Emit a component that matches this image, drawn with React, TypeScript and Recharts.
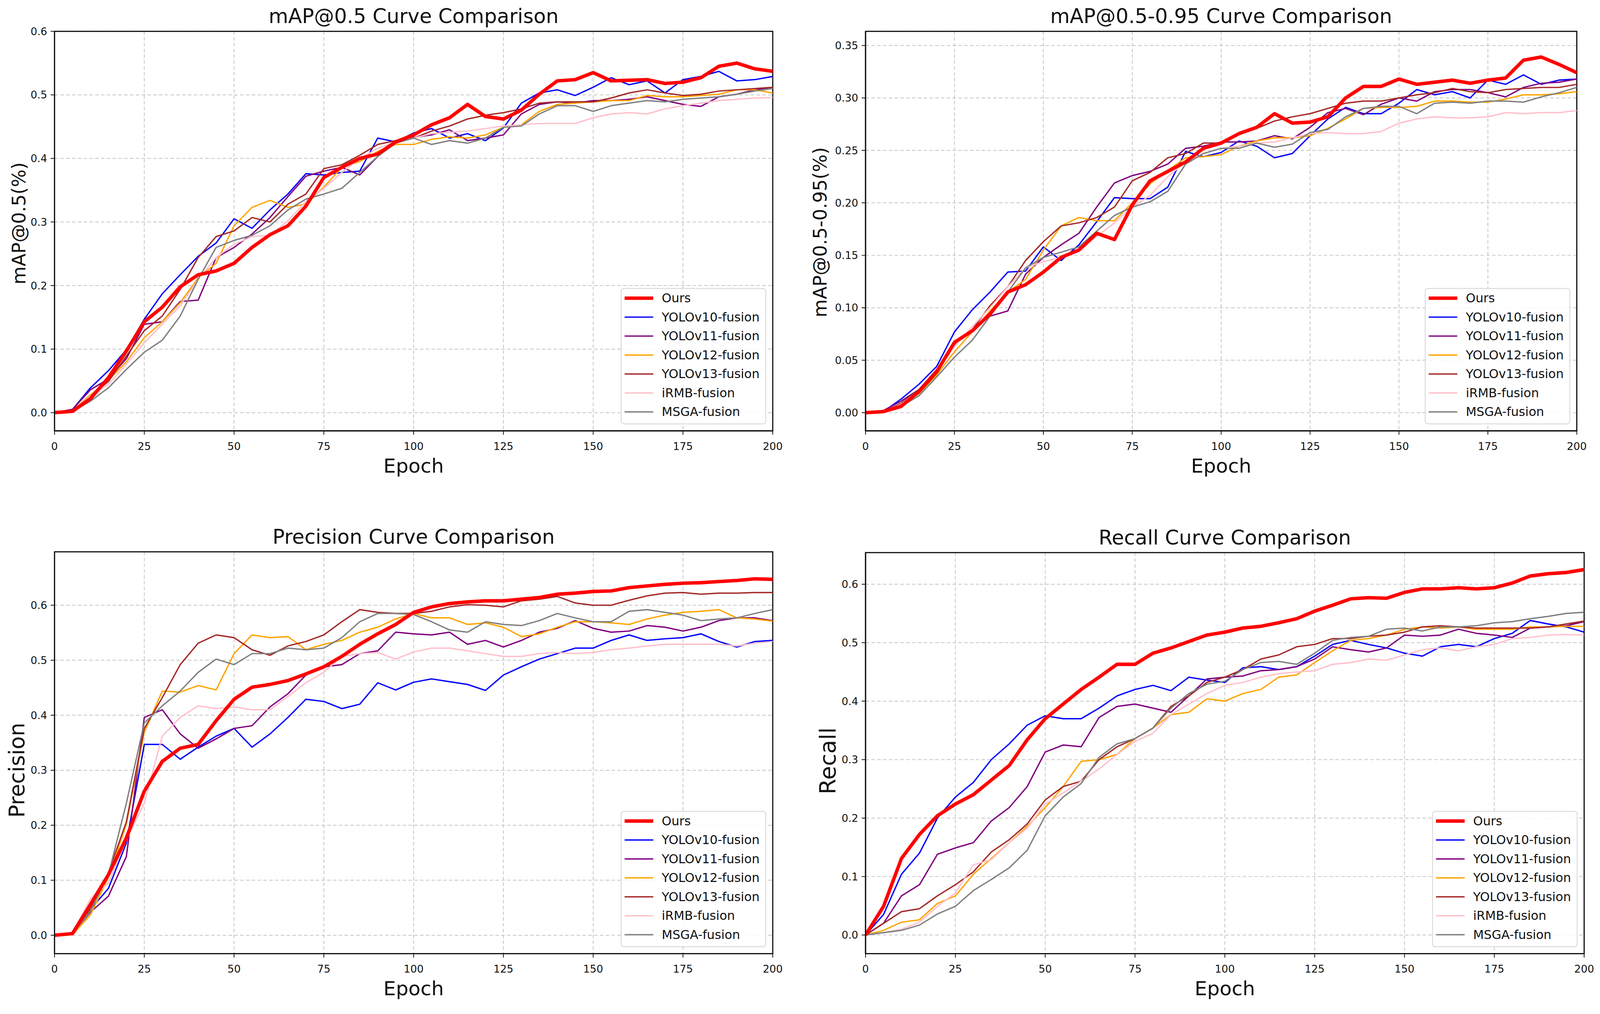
import { LineChart, Line, XAxis, YAxis, CartesianGrid, Legend, Label, ReferenceArea } from 'recharts'

const FONT = '"DejaVu Sans", Verdana, sans-serif'
const PAGE_W = 4137
const PAGE_H = 2596

if (typeof document !== 'undefined') {
  document.documentElement.style.margin = '0'
  document.documentElement.style.overflow = 'hidden'
  document.body.style.margin = '0'
  document.body.style.overflow = 'hidden'
}

// epochs sampled every 5
const epochs = [
  0, 5, 10, 15, 20, 25, 30, 35, 40, 45, 50, 55, 60, 65, 70, 75, 80, 85, 90, 95, 100,
  105, 110, 115, 120, 125, 130, 135, 140, 145, 150, 155, 160, 165, 170, 175, 180, 185, 190, 195, 200,
]
const epochTicks = [0, 25, 50, 75, 100, 125, 150, 175, 200]

const seriesNames = ['Ours', 'YOLOv10-fusion', 'YOLOv11-fusion', 'YOLOv12-fusion', 'YOLOv13-fusion', 'iRMB-fusion', 'MSGA-fusion']
const seriesColors = ['#ff0000', '#0000ff', '#800080', '#ffa500', '#a52a2a', '#ffc0cb', '#808080']

// mAP@0.5
const map50Ticks = [0, 0.1, 0.2, 0.3, 0.4, 0.5, 0.6]
const map50Ours = [0, 0.002, 0.022, 0.055, 0.097, 0.143, 0.166, 0.198, 0.217, 0.223, 0.235, 0.26, 0.28, 0.294, 0.325, 0.37, 0.386, 0.4, 0.407, 0.426, 0.437,
  0.453, 0.464, 0.485, 0.466, 0.462, 0.476, 0.501, 0.522, 0.524, 0.535, 0.522, 0.523, 0.524, 0.518, 0.52, 0.527, 0.545, 0.55, 0.541, 0.537]
const map50V10 = [0, 0.005, 0.039, 0.066, 0.099, 0.147, 0.187, 0.217, 0.246, 0.267, 0.305, 0.29, 0.319, 0.344, 0.376, 0.374, 0.378, 0.38, 0.432, 0.426, 0.44,
  0.447, 0.432, 0.439, 0.428, 0.448, 0.487, 0.503, 0.508, 0.499, 0.512, 0.527, 0.516, 0.522, 0.503, 0.524, 0.529, 0.537, 0.522, 0.524, 0.529]
const map50V11 = [0, 0.005, 0.036, 0.053, 0.085, 0.139, 0.143, 0.175, 0.177, 0.244, 0.26, 0.281, 0.307, 0.34, 0.372, 0.38, 0.386, 0.374, 0.403, 0.428, 0.433,
  0.437, 0.445, 0.428, 0.432, 0.437, 0.47, 0.485, 0.489, 0.487, 0.491, 0.491, 0.493, 0.497, 0.491, 0.485, 0.482, 0.497, 0.501, 0.508, 0.512]
const map50V12 = [0, 0.003, 0.028, 0.051, 0.08, 0.118, 0.143, 0.173, 0.212, 0.235, 0.294, 0.323, 0.334, 0.323, 0.328, 0.355, 0.386, 0.395, 0.411, 0.422, 0.422,
  0.43, 0.434, 0.432, 0.437, 0.449, 0.453, 0.474, 0.485, 0.487, 0.489, 0.491, 0.491, 0.499, 0.497, 0.497, 0.499, 0.501, 0.508, 0.508, 0.503]
const map50V13 = [0, 0.002, 0.026, 0.049, 0.089, 0.129, 0.152, 0.194, 0.244, 0.277, 0.286, 0.307, 0.3, 0.328, 0.344, 0.384, 0.39, 0.405, 0.422, 0.428, 0.432,
  0.443, 0.451, 0.462, 0.468, 0.472, 0.478, 0.487, 0.489, 0.489, 0.489, 0.495, 0.503, 0.508, 0.503, 0.499, 0.501, 0.506, 0.508, 0.51, 0.512]
const map50Irmb = [0, 0.002, 0.026, 0.045, 0.076, 0.11, 0.139, 0.168, 0.21, 0.244, 0.265, 0.277, 0.279, 0.302, 0.332, 0.353, 0.378, 0.399, 0.416, 0.426, 0.432,
  0.439, 0.441, 0.443, 0.447, 0.451, 0.453, 0.455, 0.455, 0.455, 0.464, 0.47, 0.472, 0.47, 0.478, 0.483, 0.487, 0.491, 0.493, 0.495, 0.496]
const map50Msga = [0, 0.002, 0.018, 0.039, 0.068, 0.095, 0.114, 0.152, 0.21, 0.26, 0.271, 0.279, 0.294, 0.319, 0.336, 0.344, 0.353, 0.378, 0.403, 0.424, 0.432,
  0.422, 0.428, 0.424, 0.432, 0.449, 0.451, 0.47, 0.483, 0.483, 0.474, 0.483, 0.487, 0.491, 0.489, 0.493, 0.495, 0.497, 0.501, 0.506, 0.51]

// mAP@0.5-0.95
const map95Ticks = [0, 0.05, 0.1, 0.15, 0.2, 0.25, 0.3, 0.35]
const map95Ours = [0, 0.001, 0.006, 0.02, 0.039, 0.067, 0.078, 0.094, 0.115, 0.122, 0.134, 0.148, 0.155, 0.171, 0.165, 0.198, 0.221, 0.23, 0.239, 0.252, 0.257,
  0.266, 0.272, 0.285, 0.276, 0.277, 0.282, 0.3, 0.311, 0.311, 0.318, 0.313, 0.315, 0.317, 0.314, 0.317, 0.319, 0.336, 0.339, 0.332, 0.324]
const map95V10 = [0, 0.001, 0.013, 0.027, 0.044, 0.077, 0.098, 0.115, 0.134, 0.135, 0.158, 0.145, 0.16, 0.182, 0.205, 0.204, 0.204, 0.215, 0.249, 0.244, 0.248,
  0.259, 0.254, 0.243, 0.247, 0.264, 0.28, 0.291, 0.285, 0.285, 0.295, 0.308, 0.303, 0.306, 0.3, 0.317, 0.313, 0.322, 0.313, 0.317, 0.318]
const map95V11 = [0, 0.002, 0.011, 0.022, 0.041, 0.067, 0.079, 0.092, 0.097, 0.132, 0.148, 0.16, 0.171, 0.196, 0.219, 0.226, 0.23, 0.237, 0.252, 0.254, 0.258,
  0.258, 0.259, 0.264, 0.261, 0.272, 0.286, 0.29, 0.284, 0.294, 0.3, 0.297, 0.306, 0.308, 0.308, 0.305, 0.301, 0.31, 0.314, 0.315, 0.318]
const map95V12 = [0, 0.0005, 0.007, 0.018, 0.036, 0.058, 0.077, 0.097, 0.115, 0.127, 0.155, 0.178, 0.186, 0.183, 0.183, 0.2, 0.218, 0.231, 0.243, 0.244, 0.246,
  0.254, 0.259, 0.262, 0.262, 0.264, 0.271, 0.28, 0.29, 0.291, 0.291, 0.292, 0.297, 0.297, 0.296, 0.296, 0.299, 0.303, 0.303, 0.304, 0.306]
const map95V13 = [0, 0.0005, 0.009, 0.022, 0.041, 0.065, 0.079, 0.102, 0.12, 0.145, 0.163, 0.178, 0.181, 0.186, 0.196, 0.221, 0.229, 0.243, 0.247, 0.257, 0.257,
  0.266, 0.271, 0.278, 0.282, 0.285, 0.29, 0.295, 0.297, 0.297, 0.3, 0.303, 0.305, 0.309, 0.306, 0.305, 0.308, 0.309, 0.31, 0.31, 0.313]
const map95Irmb = [0, 0.0005, 0.008, 0.021, 0.039, 0.063, 0.082, 0.1, 0.12, 0.138, 0.144, 0.148, 0.154, 0.168, 0.181, 0.196, 0.207, 0.225, 0.239, 0.247, 0.252,
  0.254, 0.257, 0.258, 0.262, 0.266, 0.267, 0.266, 0.266, 0.268, 0.276, 0.28, 0.282, 0.281, 0.281, 0.282, 0.286, 0.285, 0.286, 0.286, 0.288]
const map95Msga = [0, 0.0005, 0.006, 0.016, 0.034, 0.053, 0.069, 0.092, 0.115, 0.138, 0.148, 0.153, 0.158, 0.173, 0.188, 0.196, 0.201, 0.211, 0.237, 0.247, 0.252,
  0.252, 0.257, 0.253, 0.256, 0.267, 0.27, 0.282, 0.29, 0.292, 0.292, 0.285, 0.295, 0.296, 0.295, 0.297, 0.297, 0.296, 0.301, 0.305, 0.31]

// Precision
const precTicks = [0, 0.1, 0.2, 0.3, 0.4, 0.5, 0.6]
const precOurs = [0, 0.003, 0.056, 0.11, 0.177, 0.262, 0.316, 0.34, 0.347, 0.39, 0.429, 0.451, 0.456, 0.463, 0.475, 0.488, 0.507, 0.529, 0.548, 0.565, 0.587,
  0.597, 0.603, 0.606, 0.608, 0.608, 0.611, 0.614, 0.62, 0.622, 0.625, 0.626, 0.632, 0.635, 0.638, 0.64, 0.641, 0.643, 0.645, 0.648, 0.647]
const precV10 = [0, 0.003, 0.047, 0.085, 0.168, 0.347, 0.347, 0.32, 0.342, 0.362, 0.376, 0.342, 0.366, 0.396, 0.429, 0.425, 0.412, 0.42, 0.459, 0.446, 0.46,
  0.466, 0.461, 0.456, 0.445, 0.473, 0.488, 0.502, 0.512, 0.522, 0.522, 0.536, 0.546, 0.536, 0.539, 0.541, 0.548, 0.534, 0.524, 0.534, 0.536]
const precV11 = [0, 0.003, 0.042, 0.071, 0.143, 0.396, 0.41, 0.366, 0.34, 0.357, 0.376, 0.381, 0.415, 0.439, 0.473, 0.488, 0.492, 0.512, 0.517, 0.551, 0.548,
  0.546, 0.551, 0.529, 0.536, 0.524, 0.536, 0.551, 0.558, 0.572, 0.558, 0.551, 0.553, 0.563, 0.56, 0.553, 0.56, 0.572, 0.577, 0.577, 0.572]
const precV12 = [0, 0.001, 0.037, 0.105, 0.202, 0.369, 0.444, 0.442, 0.454, 0.446, 0.512, 0.546, 0.541, 0.543, 0.519, 0.529, 0.536, 0.551, 0.56, 0.575, 0.585,
  0.577, 0.577, 0.565, 0.568, 0.56, 0.543, 0.548, 0.56, 0.57, 0.57, 0.568, 0.565, 0.575, 0.582, 0.587, 0.589, 0.592, 0.577, 0.575, 0.571]
const precV13 = [0, 0.003, 0.047, 0.114, 0.206, 0.376, 0.432, 0.492, 0.531, 0.546, 0.541, 0.519, 0.509, 0.526, 0.534, 0.546, 0.57, 0.592, 0.587, 0.585, 0.585,
  0.589, 0.597, 0.601, 0.6, 0.597, 0.608, 0.611, 0.616, 0.604, 0.6, 0.6, 0.609, 0.617, 0.622, 0.623, 0.62, 0.622, 0.622, 0.623, 0.623]
const precIrmb = [0, 0.005, 0.066, 0.095, 0.173, 0.24, 0.362, 0.396, 0.417, 0.412, 0.415, 0.41, 0.41, 0.434, 0.459, 0.478, 0.507, 0.512, 0.514, 0.502, 0.515,
  0.522, 0.522, 0.517, 0.512, 0.507, 0.507, 0.512, 0.514, 0.512, 0.514, 0.519, 0.522, 0.526, 0.529, 0.529, 0.529, 0.529, 0.526, 0.531, 0.534]
const precMsga = [0, 0.002, 0.044, 0.11, 0.24, 0.386, 0.417, 0.444, 0.478, 0.502, 0.492, 0.512, 0.512, 0.522, 0.519, 0.522, 0.541, 0.57, 0.585, 0.585, 0.583,
  0.57, 0.555, 0.551, 0.57, 0.565, 0.563, 0.572, 0.585, 0.577, 0.57, 0.57, 0.589, 0.592, 0.587, 0.582, 0.572, 0.575, 0.577, 0.585, 0.592]

// Recall
const recTicks = [0, 0.1, 0.2, 0.3, 0.4, 0.5, 0.6]
const recOurs = [0, 0.049, 0.131, 0.172, 0.204, 0.224, 0.24, 0.265, 0.29, 0.334, 0.37, 0.395, 0.42, 0.441, 0.463, 0.463, 0.482, 0.491, 0.502, 0.513, 0.518,
  0.525, 0.528, 0.534, 0.541, 0.554, 0.564, 0.575, 0.577, 0.576, 0.586, 0.592, 0.592, 0.594, 0.592, 0.594, 0.602, 0.614, 0.618, 0.62, 0.625]
const recV10 = [0, 0.035, 0.104, 0.14, 0.2, 0.236, 0.261, 0.3, 0.327, 0.359, 0.375, 0.37, 0.37, 0.388, 0.409, 0.42, 0.427, 0.418, 0.441, 0.436, 0.432,
  0.457, 0.459, 0.454, 0.459, 0.477, 0.497, 0.504, 0.497, 0.491, 0.482, 0.477, 0.493, 0.497, 0.493, 0.507, 0.516, 0.538, 0.532, 0.527, 0.518]
const recV11 = [0, 0.02, 0.067, 0.086, 0.138, 0.149, 0.158, 0.195, 0.218, 0.254, 0.313, 0.325, 0.322, 0.372, 0.391, 0.395, 0.388, 0.381, 0.409, 0.438, 0.441,
  0.443, 0.452, 0.454, 0.459, 0.472, 0.493, 0.488, 0.484, 0.491, 0.513, 0.511, 0.513, 0.523, 0.516, 0.513, 0.509, 0.525, 0.527, 0.529, 0.536]
const recV12 = [0, 0.008, 0.022, 0.026, 0.054, 0.067, 0.104, 0.131, 0.158, 0.186, 0.218, 0.254, 0.297, 0.3, 0.309, 0.336, 0.354, 0.377, 0.381, 0.404, 0.4,
  0.413, 0.42, 0.441, 0.445, 0.466, 0.486, 0.504, 0.507, 0.513, 0.523, 0.527, 0.525, 0.527, 0.523, 0.523, 0.523, 0.527, 0.527, 0.528, 0.528]
const recV13 = [0, 0.02, 0.04, 0.045, 0.067, 0.086, 0.108, 0.142, 0.163, 0.19, 0.231, 0.254, 0.263, 0.3, 0.322, 0.336, 0.354, 0.391, 0.409, 0.432, 0.441,
  0.454, 0.472, 0.479, 0.493, 0.497, 0.507, 0.507, 0.511, 0.513, 0.518, 0.527, 0.529, 0.527, 0.525, 0.525, 0.525, 0.525, 0.527, 0.532, 0.537]
const recIrmb = [0, 0.004, 0.01, 0.022, 0.049, 0.072, 0.12, 0.129, 0.158, 0.183, 0.224, 0.243, 0.263, 0.284, 0.309, 0.331, 0.345, 0.377, 0.395, 0.413, 0.427,
  0.432, 0.441, 0.447, 0.45, 0.452, 0.463, 0.466, 0.472, 0.47, 0.479, 0.488, 0.491, 0.486, 0.493, 0.497, 0.507, 0.509, 0.513, 0.514, 0.513]
const recMsga = [0, 0.004, 0.008, 0.017, 0.036, 0.049, 0.076, 0.095, 0.115, 0.145, 0.204, 0.236, 0.259, 0.304, 0.327, 0.336, 0.354, 0.388, 0.413, 0.429, 0.434,
  0.454, 0.466, 0.468, 0.463, 0.482, 0.504, 0.509, 0.511, 0.523, 0.525, 0.52, 0.527, 0.527, 0.529, 0.534, 0.536, 0.541, 0.545, 0.55, 0.552]

const LEGEND_W = 376
const LEGEND_H = 352

function LegendBox() {
  return (
    <div
      style={{
        position: 'relative',
        boxSizing: 'border-box',
        width: LEGEND_W,
        height: LEGEND_H,
        border: '2px solid #d4d4d4',
        borderRadius: 8,
        background: 'rgba(255,255,255,0.85)',
        fontFamily: FONT,
      }}
    >
      {seriesNames.map((name, i) => (
        <div
          key={name}
          style={{ position: 'absolute', left: 0, top: 4 + i * 49, height: 40, display: 'flex', alignItems: 'center' }}
        >
          <svg width={100} height={40}>
            <line x1={8} x2={82} y1={20} y2={20} stroke={seriesColors[i]} strokeWidth={i === 0 ? 9 : 3.5} />
          </svg>
          <span style={{ marginLeft: 4, fontSize: 32, lineHeight: '40px', color: '#111', whiteSpace: 'nowrap' }}>{name}</span>
        </div>
      ))}
    </div>
  )
}

interface PanelProps {
  title: string
  yLabel: string
  yLabelSize: number
  yLabelX: number
  yLabelDy: number
  series: number[][]
  yTicks: number[]
  yDomain: [number, number]
  digits: number
  left: number
  top: number
  width: number
  height: number
  marginTop: number
  marginRight: number
  yAxisWidth: number
  xAxisHeight: number
}

function Panel(p: PanelProps) {
  const rows = epochs.map((epoch, i) => {
    const row: Record<string, number> = { epoch }
    p.series.forEach((s, k) => {
      row['s' + k] = s[i]
    })
    return row
  })
  const plotRight = p.width - p.marginRight
  const plotBottom = p.height - p.xAxisHeight
  const titleX = (p.yAxisWidth + plotRight) / 2
  const tickStyle = { fontSize: 27, fill: '#111', fontFamily: FONT }
  // draw the baselines first and "Ours" last so it sits on top
  const order = [1, 2, 3, 4, 5, 6, 0]

  return (
    <div style={{ position: 'absolute', left: p.left, top: p.top, width: p.width, height: p.height }}>
      <svg width={p.width} height={p.marginTop} style={{ position: 'absolute', left: 0, top: 0, pointerEvents: 'none' }}>
        <text x={titleX} y={p.marginTop - 21} textAnchor="middle" fontSize={52} fontFamily={FONT} fill="#111">
          {p.title}
        </text>
      </svg>
      <LineChart
        width={p.width}
        height={p.height}
        data={rows}
        margin={{ top: p.marginTop, right: p.marginRight, left: 0, bottom: 0 }}
      >
        <CartesianGrid stroke="#c4c4c4" strokeWidth={2} strokeDasharray="9 6" />
        <XAxis
          dataKey="epoch"
          type="number"
          domain={[0, 200]}
          ticks={epochTicks}
          height={p.xAxisHeight}
          tick={tickStyle}
          tickSize={10}
          tickMargin={20}
          tickLine={{ stroke: '#111', strokeWidth: 2 }}
          axisLine={{ stroke: '#111', strokeWidth: 3 }}
          allowDataOverflow
        >
          <Label
            content={({ viewBox }: any) => (
              <text x={viewBox.x + viewBox.width / 2} y={viewBox.y + 108} textAnchor="middle" fontSize={51} fontFamily={FONT} fill="#111">
                Epoch
              </text>
            )}
          />
        </XAxis>
        <YAxis
          type="number"
          domain={p.yDomain}
          ticks={p.yTicks}
          width={p.yAxisWidth}
          tick={tickStyle}
          tickSize={10}
          tickMargin={9}
          tickFormatter={(v: number) => v.toFixed(p.digits)}
          tickLine={{ stroke: '#111', strokeWidth: 2 }}
          axisLine={{ stroke: '#111', strokeWidth: 3 }}
          allowDataOverflow
        >
          <Label
            content={({ viewBox }: any) => {
              const cx = viewBox.x + p.yLabelX
              const cy = viewBox.y + viewBox.height / 2 + p.yLabelDy
              return (
                <text
                  transform={`translate(${cx},${cy}) rotate(-90)`}
                  textAnchor="middle"
                  dominantBaseline="central"
                  fontSize={p.yLabelSize}
                  fontFamily={FONT}
                  fill="#111"
                >
                  {p.yLabel}
                </text>
              )
            }}
          />
        </YAxis>
        {/* plot frame (top and right spines) */}
        <ReferenceArea
          x1={0}
          x2={200}
          y1={p.yDomain[0]}
          y2={p.yDomain[1]}
          fill="none"
          fillOpacity={0}
          stroke="#111"
          strokeWidth={3}
          ifOverflow="visible"
        />
        {order.map((k) => (
          <Line
            key={k}
            type="linear"
            dataKey={'s' + k}
            name={seriesNames[k]}
            stroke={seriesColors[k]}
            strokeWidth={k === 0 ? 9 : 3.5}
            strokeLinejoin="round"
            dot={false}
            activeDot={false}
            isAnimationActive={false}
          />
        ))}
        <Legend
          layout="vertical"
          align="center"
          verticalAlign="middle"
          wrapperStyle={{ left: plotRight - 17 - LEGEND_W, top: plotBottom - 17 - LEGEND_H, width: LEGEND_W, height: LEGEND_H }}
          content={() => <LegendBox />}
        />
      </LineChart>
    </div>
  )
}

export default function App() {
  // fit the figure into the visible viewport if it is smaller than the page size
  const vw = typeof window !== 'undefined' ? window.innerWidth : PAGE_W
  const vh = typeof window !== 'undefined' ? window.innerHeight : PAGE_H
  const s = Math.min(1, vw / PAGE_W, vh / PAGE_H)

  return (
    <div style={{ width: PAGE_W * s, height: PAGE_H * s, overflow: 'hidden', background: '#fff' }}>
      <div
        style={{
          position: 'relative',
          width: PAGE_W,
          height: PAGE_H,
          background: '#fff',
          transform: `scale(${s})`,
          transformOrigin: '0 0',
        }}
      >
        <Panel
          title="mAP@0.5 Curve Comparison"
          yLabel="mAP@0.5(%)"
          yLabelSize={48}
          yLabelX={49}
          yLabelDy={-20}
          series={[map50Ours, map50V10, map50V11, map50V12, map50V13, map50Irmb, map50Msga]}
          yTicks={map50Ticks}
          yDomain={[-0.0286, 0.6]}
          digits={1}
          left={0}
          top={0}
          width={2068}
          height={1298}
          marginTop={81}
          marginRight={70}
          yAxisWidth={141}
          xAxisHeight={184}
        />
        <Panel
          title="mAP@0.5-0.95 Curve Comparison"
          yLabel="mAP@0.5-0.95(%)"
          yLabelSize={48}
          yLabelX={53}
          yLabelDy={3}
          series={[map95Ours, map95V10, map95V11, map95V12, map95V13, map95Irmb, map95Msga]}
          yTicks={map95Ticks}
          yDomain={[-0.0173, 0.3635]}
          digits={2}
          left={2068}
          top={0}
          width={2069}
          height={1298}
          marginTop={81}
          marginRight={60}
          yAxisWidth={170}
          xAxisHeight={184}
        />
        <Panel
          title="Precision Curve Comparison"
          yLabel="Precision"
          yLabelSize={55}
          yLabelX={43}
          yLabelDy={45}
          series={[precOurs, precV10, precV11, precV12, precV13, precIrmb, precMsga]}
          yTicks={precTicks}
          yDomain={[-0.0335, 0.697]}
          digits={1}
          left={0}
          top={1298}
          width={2068}
          height={1298}
          marginTop={129}
          marginRight={70}
          yAxisWidth={141}
          xAxisHeight={130}
        />
        <Panel
          title="Recall Curve Comparison"
          yLabel="Recall"
          yLabelSize={58}
          yLabelX={73}
          yLabelDy={20}
          series={[recOurs, recV10, recV11, recV12, recV13, recIrmb, recMsga]}
          yTicks={recTicks}
          yDomain={[-0.0319, 0.654]}
          digits={1}
          left={2068}
          top={1298}
          width={2069}
          height={1298}
          marginTop={131}
          marginRight={41}
          yAxisWidth={170}
          xAxisHeight={130}
        />
      </div>
    </div>
  )
}
